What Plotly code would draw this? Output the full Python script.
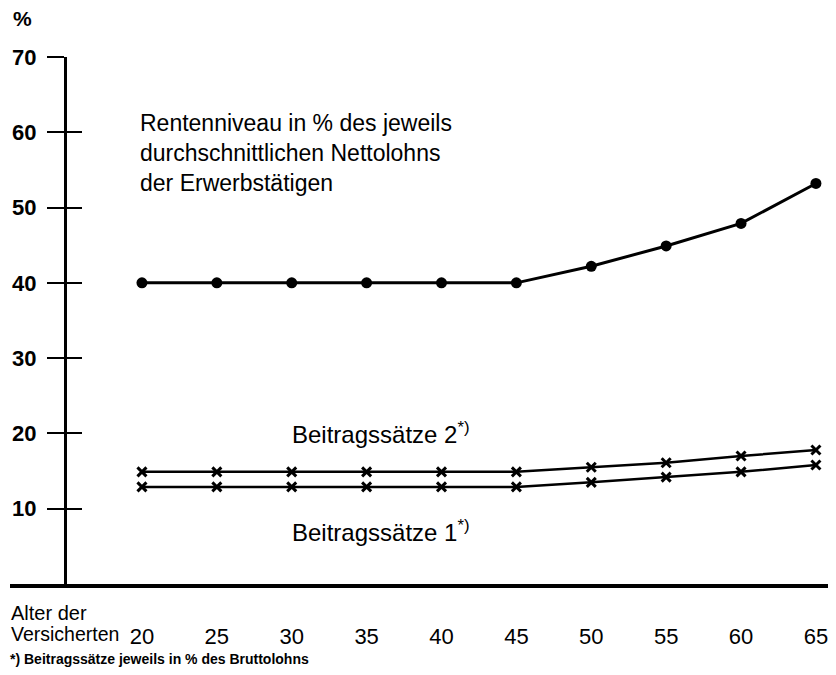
import plotly.graph_objects as go

ages = [20, 25, 30, 35, 40, 45, 50, 55, 60, 65]
rentenniveau = [40.0, 40.0, 40.0, 40.0, 40.0, 40.0, 42.2, 44.9, 47.9, 53.2]
beitrag2 = [14.9, 14.9, 14.9, 14.9, 14.9, 14.9, 15.5, 16.1, 17.0, 17.8]
beitrag1 = [12.9, 12.9, 12.9, 12.9, 12.9, 12.9, 13.5, 14.2, 14.9, 15.8]
y_ticks = [10, 20, 30, 40, 50, 60, 70]
x_tick_labels = [str(a) for a in ages]

FONT = "Liberation Sans, Arial, Helvetica, sans-serif"

fig = go.Figure()
fig.add_trace(go.Scatter(x=ages, y=rentenniveau, mode="lines+markers",
                         line=dict(color="black", width=3),
                         marker=dict(symbol="circle", size=11, color="black"),
                         showlegend=False))
fig.add_trace(go.Scatter(x=ages, y=beitrag2, mode="lines+markers",
                         line=dict(color="black", width=2.5),
                         marker=dict(symbol="x-thin", size=9, color="black",
                                     line=dict(width=3, color="black")),
                         showlegend=False))
fig.add_trace(go.Scatter(x=ages, y=beitrag1, mode="lines+markers",
                         line=dict(color="black", width=2.5),
                         marker=dict(symbol="x-thin", size=9, color="black",
                                     line=dict(width=3, color="black")),
                         showlegend=False))
# invisible trace on the overlay axis so it renders
fig.add_trace(go.Scatter(x=[ages[0]], y=[0], yaxis="y2", mode="markers",
                         marker=dict(opacity=0), showlegend=False, hoverinfo="skip"))

yaxis_pos = (14.86 - 11.19) / (66.34 - 11.19)

fig.update_layout(
    width=828, height=667,
    margin=dict(l=2, r=0, t=49, b=91),
    paper_bgcolor="white", plot_bgcolor="white",
    font=dict(family=FONT, color="black"),
    xaxis=dict(range=[11.19, 66.34], showgrid=False, zeroline=False, automargin=False,
               showline=True, linecolor="black", linewidth=3.5,
               tickmode="array", tickvals=ages, ticktext=x_tick_labels,
               ticks="", ticklabelstandoff=30,
               tickfont=dict(family=FONT, size=22, color="black")),
    yaxis=dict(range=[0, 70], showgrid=False, zeroline=False, automargin=False,
               anchor="free", position=yaxis_pos,
               showline=True, linecolor="black", linewidth=3,
               tickmode="array", tickvals=y_ticks,
               ticks="outside", ticklen=17, tickwidth=1.5, tickcolor="black",
               ticklabelstandoff=6,
               tickfont=dict(family=FONT, size=22, color="black", weight="bold")),
    yaxis2=dict(range=[0, 70], overlaying="y", anchor="free", position=yaxis_pos,
                automargin=False,
                showgrid=False, zeroline=False, showline=False,
                tickmode="array", tickvals=y_ticks, showticklabels=False,
                ticks="inside", ticklen=16, tickwidth=1.5, tickcolor="black"),
)

annotations = [
    dict(text="%", xref="paper", yref="paper", x=0.0157, y=1.074,
         xanchor="center", yanchor="middle", showarrow=False,
         font=dict(family=FONT, size=21, weight="bold")),
    dict(text="Rentenniveau in % des jeweils<br>durchschnittlichen Nettolohns<br>der Erwerbstätigen",
         xref="x", yref="y", x=19.73, y=57.3, xanchor="left", yanchor="middle",
         align="left", showarrow=False, font=dict(family=FONT, size=23)),
    dict(text="Beitragssätze 2<sup>*)</sup>", xref="x", yref="y", x=29.88, y=20.0,
         xanchor="left", yanchor="middle", showarrow=False,
         font=dict(family=FONT, size=24)),
    dict(text="Beitragssätze 1<sup>*)</sup>", xref="x", yref="y", x=29.88, y=7.0,
         xanchor="left", yanchor="middle", showarrow=False,
         font=dict(family=FONT, size=24)),
    dict(text="Alter der", xref="paper", yref="paper", x=-0.001, y=-0.055,
         xanchor="left", yanchor="middle", align="left", showarrow=False,
         font=dict(family=FONT, size=20)),
    dict(text="Versicherten", xref="paper", yref="paper", x=-0.001, y=-0.095,
         xanchor="left", yanchor="middle", align="left", showarrow=False,
         font=dict(family=FONT, size=19.5)),
    dict(text="*) Beitragssätze jeweils in % des Bruttolohns", xref="paper", yref="paper",
         x=-0.0024, y=-0.123, xanchor="left", yanchor="top", align="left", showarrow=False,
         font=dict(family=FONT, size=14, weight="bold")),
]
fig.update_layout(annotations=annotations)

fig.write_html("out.html")
